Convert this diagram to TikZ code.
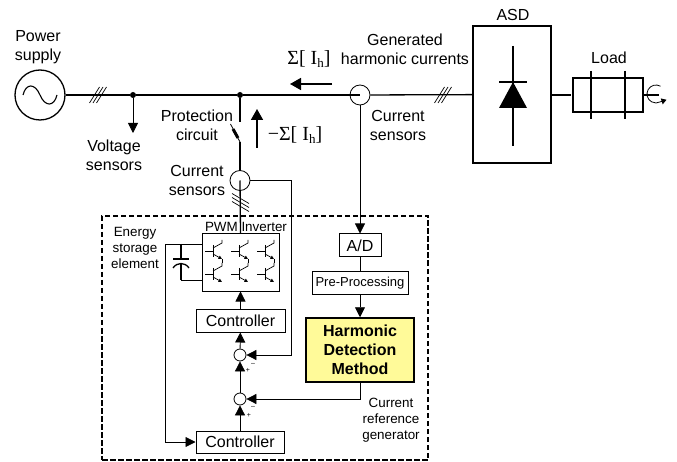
\documentclass[tikz,border=0pt]{standalone}
\usepackage{fontspec}
\setmainfont{Liberation Sans}
\newfontfamily\serifface{Liberation Serif}
\usetikzlibrary{arrows.meta}
\tikzset{
    wire/.style = {line width = 1.3pt},
    sigline/.style = {line width = 0.8pt},
    tipped/.style = {-{Triangle[length=10pt, width=10pt]}},
    bigtipped/.style = {line width = 1.6pt, -{Triangle[length=11pt, width=12pt]}},
    labeltext/.style = {font = \fontsize{16}{19}\selectfont, align = center},
    smalltext/.style = {font = \fontsize{13.4}{16}\selectfont, align = center},
    mathtext/.style = {font = \serifface\fontsize{20}{22}\selectfont},
    signtext/.style = {font = \fontsize{7}{8}\selectfont},
    blockbox/.style = {draw, line width = 1pt, fill = white, inner sep = 0pt},
    sumnode/.style = {draw, circle, fill = white, line width = 0.8pt, minimum size = 12pt, inner sep = 0pt},
    sensor/.style = {draw, circle, line width = 0.8pt, minimum size = 20pt, inner sep = 0pt},
    junction/.style = {circle, fill, minimum size = 6pt, inner sep = 0pt}
}
\newcommand{\slashes}[2]{
    \foreach \d in {-3.5, 0, 3.5} {
        \draw [line width = 0.7pt] ({#1 + \d - 5}, {#2 + 8}) -- ({#1 + \d + 5}, {#2 - 8});
    }
}
\newcommand{\igbt}[2]{
    \draw [line width = 0.7pt] (#1 - 8, #2) -- (#1, #2);
    \draw [line width = 1pt] (#1, #2 - 6) -- (#1, #2 + 6);
    \draw [line width = 0.7pt] (#1, #2 - 3) -- (#1 + 9, #2 - 8) -- (#1 + 9, #2 - 11);
    \draw [line width = 0.7pt, -{Triangle[length=3.5pt, width=3.5pt]}] (#1, #2 + 3) -- (#1 + 9, #2 + 8);
}
\newcommand{\hsub}{\raisebox{-3pt}{\fontsize{13}{13}\selectfont h}}
\begin{document}
\begin{tikzpicture}[x = 1pt, y = -1pt]
    \useasboundingbox (0, 0) rectangle (677, 462);
    % nodes
    \node [draw, circle, wire, minimum size = 50pt, inner sep = 0pt] (supply) at (40, 95) {};
    \node [junction] (voltjoint) at (133, 95) {};
    \node [junction] (shuntjoint) at (240, 95) {};
    \node [sensor] (linesensor) at (360, 95) {};
    \node [sensor] (shuntsensor) at (240, 180.5) {};
    \node [blockbox, line width = 1.2pt, minimum width = 78pt, minimum height = 137pt] (asd) at (512, 94.5) {};
    \node [blockbox, line width = 1.2pt, minimum width = 70pt, minimum height = 34pt] (load) at (608, 95) {};
    \node [blockbox, minimum width = 77pt, minimum height = 57pt] (inverter) at (240.5, 262.5) {};
    \node [blockbox, minimum width = 89pt, minimum height = 23pt, labeltext] (ctrlupper) at (240.5, 320.5) {Controller};
    \node [blockbox, minimum width = 88pt, minimum height = 22pt, labeltext] (ctrllower) at (240, 442) {Controller};
    \node [sumnode] (sumupper) at (240, 355) {};
    \node [sumnode] (sumlower) at (240, 399) {};
    \node [blockbox, minimum width = 42pt, minimum height = 23pt, labeltext] (adc) at (360, 245.5) {A/D};
    \node [blockbox, minimum width = 96pt, minimum height = 22pt, font = \fontsize{13}{15}\selectfont] (preproc) at (360, 283) {Pre-Processing};
    \node [blockbox, line width = 1.5pt, fill = yellow!40, minimum width = 108pt, minimum height = 64pt,
           labeltext, font = \fontsize{16}{19}\bfseries] (method) at (360, 350) {Harmonic\\Detection\\Method};
    \node [draw, dash pattern = on 5.5pt off 2.5pt, line width = 1.2pt, minimum width = 326pt, minimum height = 244pt, inner sep = 0pt] (generator) at (265, 338) {};
    \coordinate (voltend) at (133, 133);
    \coordinate (fusetop) at (240, 122);
    \coordinate (fuseend) at (240, 142);
    \coordinate (shuntcorner) at (291, 180.5);
    \coordinate (shuntdown) at (291, 355);
    \coordinate (methoddown) at (360, 399);
    \coordinate (busleft) at (165, 244);
    \coordinate (busdown) at (165, 442);
    \coordinate (capwire) at (181, 244);
    \coordinate (capbot) at (181, 280);
    % power lines
    \draw [wire] (supply) -- (voltjoint) -- (shuntjoint) -- (linesensor.center);
    \draw [wire] (linesensor) -- (asd);
    \draw [wire] (asd.east |- load.west) -- ++(19, 0);
    \draw [wire] (load.east) -- ++(15, 0);
    \draw [wire] (shuntjoint) -- (fusetop);
    \draw [wire] (fuseend) -- (shuntsensor.north);
    \draw [wire] (shuntsensor.center) -- (inverter.north);
    \draw [line width = 1.1pt] (23, 95) .. controls (26, 83) and (35, 83) .. (40, 95) .. controls (45, 107) and (54, 107) .. (57, 95);
    \slashes{98}{95}
    \slashes{443}{95}
    \foreach \d in {-4, 0, 4} {
        \draw [line width = 0.7pt] (232, {202.5 + \d - 5}) -- (249, {202.5 + \d + 5});
    }
    % protection switch
    \draw [line width = 0.8pt] (230.5, 124) -- (fuseend);
    \draw [line width = 3pt] (233, 129) -- (238, 138);
    % sensor lines
    \draw [sigline, tipped] (voltjoint) -- (voltend);
    \draw [sigline, tipped] (linesensor) -- (adc);
    \draw [sigline] (adc) -- (preproc);
    \draw [sigline, tipped] (preproc) -- (method);
    \draw [sigline, tipped] (shuntsensor.east) -- (shuntcorner) -- (shuntdown) -- (sumupper);
    \draw [sigline, tipped] (method.south) -- (methoddown) -- (sumlower);
    \draw [sigline, tipped] (ctrlupper) -- (inverter);
    \draw [sigline, tipped] (sumupper) -- (ctrlupper);
    \draw [sigline, tipped] (sumlower) -- (sumupper);
    \draw [sigline, tipped] (ctrllower) -- (sumlower);
    \draw [sigline, tipped] (inverter.west |- busleft) -- (busleft) -- (busdown) -- (ctrllower);
    % storage capacitor
    \draw [sigline] (inverter.west |- capbot) -- (capbot);
    \draw [wire] (capbot) -- (181, 263);
    \draw [wire] (capwire) -- (181, 259);
    \draw [wire] (173, 259) -- (189, 259);
    \draw [wire] (173, 268) .. controls (177, 262) and (185, 262) .. (189, 268);
    % diode
    \draw [wire] (513, 46) -- (513, 146);
    \draw [wire] (499, 82) -- (527, 82);
    \fill (513, 82) -- (527, 108) -- (499, 108) -- cycle;
    % load
    \draw [wire] (591, 71) -- (591, 119);
    \draw [wire] (625, 71) -- (625, 119);
    \draw [line width = 0.8pt, -{Triangle[length=5pt, width=6pt]}] (660.5, 86.2) arc [start angle = -60, end angle = -300, radius = 9] -- ++(6, -2);
    % switches of the inverter
    \foreach \x in {213, 239, 265} {
        \igbt{\x}{251}
        \igbt{\x}{274}
        \draw [line width = 0.7pt] (\x + 9, 259) -- (\x + 9, 263);
    }
    % arrows of the current
    \coordinate (sumstart) at (332, 84);
    \coordinate (sumend) at (290, 84);
    \coordinate (negstart) at (257, 148);
    \coordinate (negend) at (257, 109);
    \draw [bigtipped] (sumstart) -- (sumend);
    \draw [bigtipped] (negstart) -- (negend);
    % labels
    \node [labeltext] (supplylabel) at (38, 47) {Power\\supply};
    \node [labeltext] (voltlabel) at (114, 155) {Voltage\\sensors};
    \node [labeltext] (protlabel) at (197, 125.5) {Protection\\circuit};
    \node [labeltext] (shuntlabel) at (197, 180.5) {Current\\sensors};
    \node [labeltext] (genlabel) at (405, 49) {Generated\\harmonic currents};
    \node [labeltext] (linelabel) at (398, 125) {Current\\sensors};
    \node [labeltext] (asdlabel) at (513, 15) {ASD};
    \node [labeltext] (loadlabel) at (609, 58) {Load};
    \node [mathtext] (sumlabel) at (309, 59) {Σ[ I\hsub]};
    \node [mathtext] (negsumlabel) at (295, 135) {−Σ[ I\hsub]};
    \node [smalltext] (storelabel) at (135, 248) {Energy\\storage\\element};
    \node [smalltext] (pwmlabel) at (246, 227) {PWM Inverter};
    \node [smalltext] (reflabel) at (391, 420) {Current\\reference\\generator};
    \node [signtext] (plusupper) at (248, 370) {+};
    \node [signtext] (minusupper) at (253, 364) {--};
    \node [signtext] (pluslower) at (249, 415) {+};
    \node [signtext] (minuslower) at (253, 407) {--};
\end{tikzpicture}
\end{document}
